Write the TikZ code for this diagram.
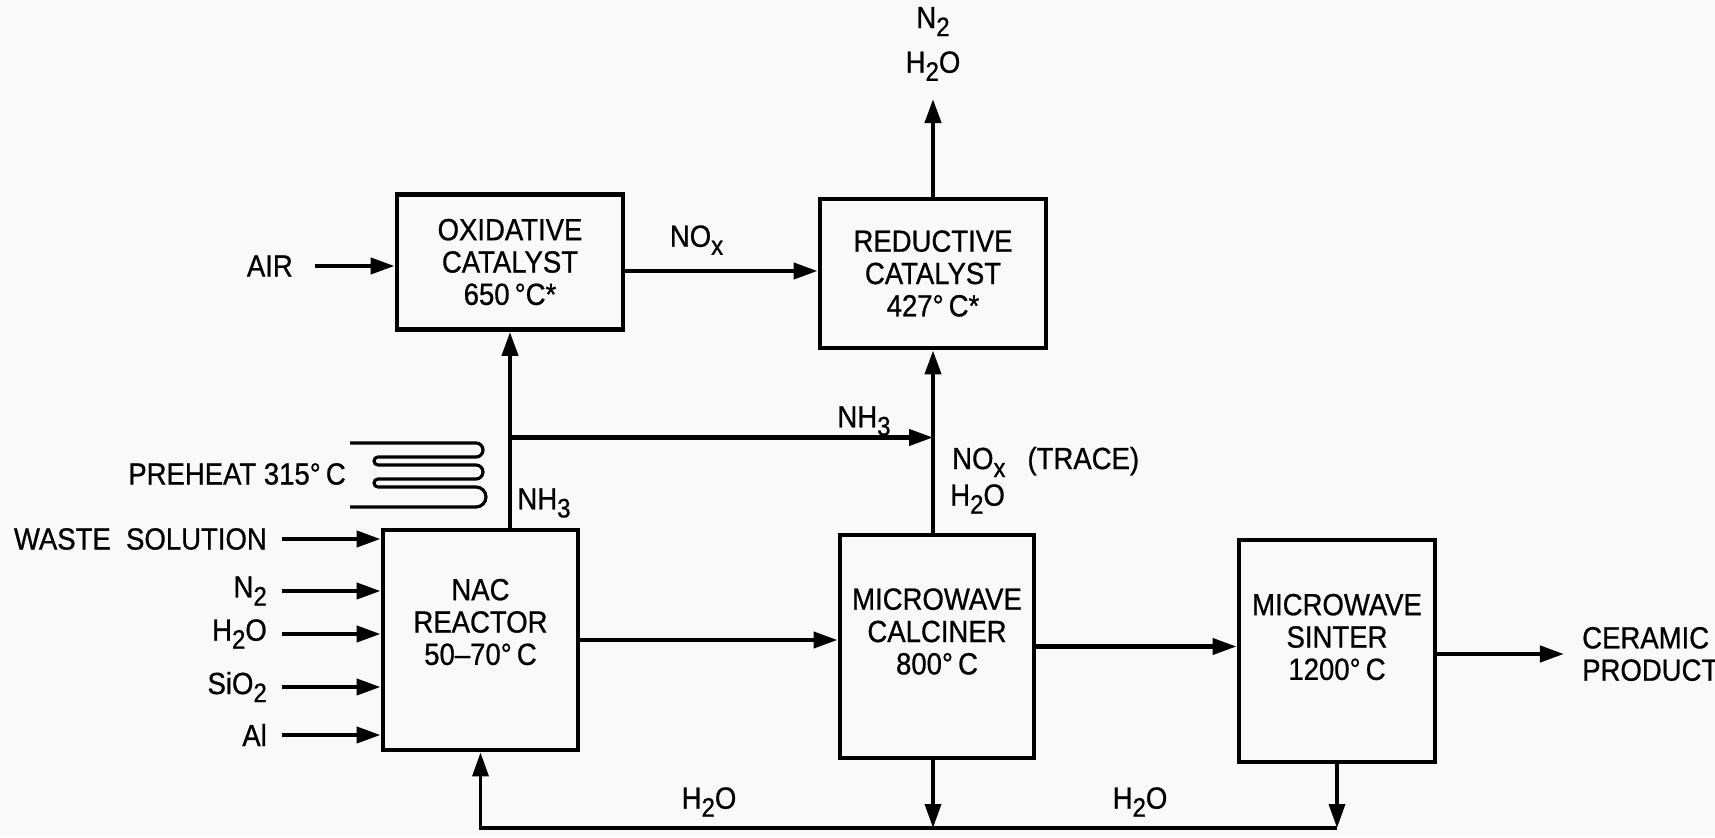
\documentclass[tikz,border=0pt]{standalone}
\usepackage{fontspec}
\setmainfont{Liberation Sans}[FakeStretch=0.9,FakeBold=0.8]
\usepackage{xcolor}
\definecolor{fondoScan}{HTML}{F9F9F9}
\usepackage{tikz}
\usetikzlibrary{arrows.meta,positioning}
\newcommand{\bajo}[1]{\raisebox{-0.5ex}{\fontsize{7.6}{8}\selectfont #1}}

\begin{document}
\begin{tikzpicture}[x=1cm,y=1cm,font=\fontsize{8.7}{9.2}\selectfont,
  >={Triangle[length=2.4mm,width=1.6mm]},
  equipo/.style={draw,line width=1.4pt,align=center,inner sep=2pt},
  flujo/.style={->,line width=1.2pt},
  retorno/.style={->,line width=1pt},
  etiq/.style={inner sep=1pt,align=center}]

% Fondo
\fill[fondoScan] (0,0) rectangle (17.15,8.37);
\useasboundingbox (0,0) rectangle (17.15,8.37);

% Equipos
\node[equipo,minimum width=2.26cm,minimum height=1.35cm] (oxcat) at (5.10,5.75)
    {OXIDATIVE\\CATALYST\\650\,°C*};
\node[equipo,minimum width=2.26cm,minimum height=1.49cm] (redcat) at (9.33,5.635)
    {REDUCTIVE\\CATALYST\\427°\,C*};
\node[equipo,minimum width=1.95cm,minimum height=2.20cm,
      label={[etiq,yshift=0.18cm]center:NAC\\REACTOR\\50--70°\,C}] (nac) at (4.805,1.97) {};
\node[equipo,minimum width=1.94cm,minimum height=2.23cm,
      label={[etiq,yshift=0.15cm]center:MICROWAVE\\CALCINER\\800°\,C}] (calc) at (9.37,1.905) {};
\node[equipo,minimum width=1.96cm,minimum height=2.22cm,
      label={[etiq,yshift=0.14cm]center:MICROWAVE\\SINTER\\1200°\,C}] (sinter) at (13.37,1.86) {};

% Entradas al reactor
\node[etiq,anchor=east] (waste) at (2.71,2.98) {WASTE\ \ SOLUTION};
\node[etiq,anchor=east] (nitro) at (2.71,2.46) {N\bajo{2}};
\node[etiq,anchor=east] (agua)  at (2.71,2.03) {H\bajo{2}O};
\node[etiq,anchor=east] (silice) at (2.71,1.50) {SiO\bajo{2}};
\node[etiq,anchor=east] (alum)  at (2.71,1.02) {Al};

\draw[flujo,shorten <=3pt] (waste.east)  -- (waste.east -| nac.west);
\draw[flujo,shorten <=3pt] (nitro.east)  -- (nitro.east -| nac.west);
\draw[flujo,shorten <=3pt] (agua.east)   -- (agua.east -| nac.west);
\draw[flujo,shorten <=3pt] (silice.east) -- (silice.east -| nac.west);
\draw[flujo,shorten <=3pt] (alum.east)   -- (alum.east -| nac.west);

% Aire y NOx
\node[etiq,anchor=east] (aire) at (2.97,5.71) {AIR};
\draw[flujo,shorten <=5pt] (aire.east) -- (aire.east -| oxcat.west);

\draw[flujo] ([yshift=-0.09cm]oxcat.east) -- ([yshift=-0.09cm]oxcat.east -| redcat.west)
    node[etiq,pos=0.37,above=3pt] (noxa) {NO\bajo{x}};

% Gases de salida
\node[etiq,anchor=south] (gases) at (9.33,7.52) {N\bajo{2}\\[3.5pt]H\bajo{2}O};
\draw[flujo,shorten >=4pt] (redcat.north) -- (gases.south);

% Amoniaco
\coordinate (te) at (oxcat.south |- 0,3.995);
\draw[flujo] (oxcat.south |- nac.north) -- (oxcat.south);
\draw[flujo] (te) -- (te -| redcat.south);
\node[etiq] (nh3a) at (5.44,3.34) {NH\bajo{3}};
\node[etiq] (nh3b) at (8.64,4.16) {NH\bajo{3}};

% Precalentador
\node[etiq,anchor=east] (prec) at (3.50,3.63) {PREHEAT\ 315°\,C};
\draw[line width=0.9pt] (3.50,3.94) -- (4.76,3.94)
  arc[start angle=90,end angle=-90,radius=0.07]
  -- (3.78,3.80) arc[start angle=90,end angle=270,radius=0.04]
  -- (4.76,3.72) arc[start angle=90,end angle=-90,radius=0.07]
  -- (3.78,3.58) arc[start angle=90,end angle=270,radius=0.04]
  -- (4.76,3.50) arc[start angle=90,end angle=-90,radius=0.10]
  -- (3.50,3.30);

% Calcinador a catalizador reductor
\draw[flujo] (redcat.south |- calc.north) -- (redcat.south);
\node[etiq,anchor=west] (noxb) at (9.48,3.75) {NO\bajo{x}\hspace{0.22cm}(TRACE)};
\node[etiq,anchor=west] (vapor) at (9.46,3.38) {H\bajo{2}O};

% Linea principal
\draw[flujo] (nac.east) -- (nac.east -| calc.west);
\draw[flujo] (calc.east) -- (calc.east -| sinter.west);
\node[etiq,anchor=west,align=left] (producto) at (15.78,1.83) {CERAMIC\\PRODUCT};
\draw[flujo,shorten >=4pt] (sinter.east |- producto.west) -- (producto.west);

% Retorno de agua
\coordinate (ret) at (0,0.09);
\draw[retorno] (redcat.south |- calc.south) -- (redcat.south |- ret);
\draw[retorno] (sinter.south) -- (sinter.south |- ret);
\draw[retorno] (sinter.south |- ret) -- (nac.south |- ret) -- (nac.south);
\node[etiq] (aguaa) at (7.09,0.35) {H\bajo{2}O};
\node[etiq] (aguab) at (11.40,0.35) {H\bajo{2}O};

\end{tikzpicture}
\end{document}
